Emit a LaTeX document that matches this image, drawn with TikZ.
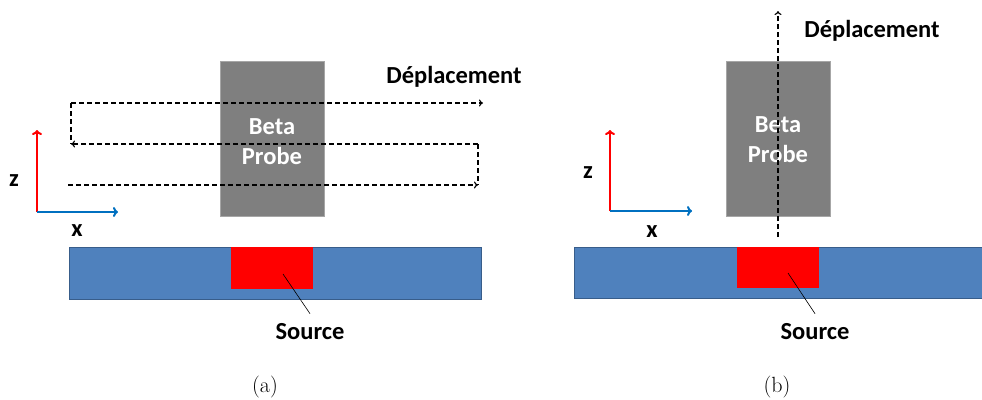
\documentclass[tikz,border=0pt]{standalone}
\usepackage{fontspec}
\newfontfamily\calibfont{Carlito}
\usetikzlibrary{arrows.meta}

\definecolor{slabblue}{HTML}{4F81BD}
\definecolor{slabedge}{HTML}{385D8A}
\definecolor{probegray}{HTML}{7F7F7F}
\definecolor{axisblue}{HTML}{0070C0}

\tikzset{
  lbl/.style={font=\calibfont\bfseries\fontsize{24.5}{30}\selectfont, inner sep=0pt},
  probelbl/.style={lbl, text=white, align=center},
  slab/.style={fill=slabblue, draw=slabedge, line width=0.8pt},
  srcbox/.style={fill=red},
  probebox/.style={fill=probegray, draw=gray!70, line width=0.5pt},
  travel/.style={dash pattern=on 5pt off 3pt, line width=1.1pt},
  travelarrow/.style={travel, -{To[length=4pt,width=7pt]}},
  zaxis/.style={draw=red, line width=2pt, -{To[length=5pt,width=10pt]}},
  xaxis/.style={draw=axisblue, line width=2pt, -{To[length=5pt,width=10pt]}},
  caption/.style={font=\fontsize{22}{24}\selectfont, inner sep=0pt}
}

\begin{document}
\begin{tikzpicture}[x=1pt, y=-1pt]
  \useasboundingbox (0,0) rectangle (982,399);

  %(a) balayage
  \coordinate (aTL) at (71,103);
  \coordinate (aTR) at (483,103);
  \coordinate (aML) at (71,144);
  \coordinate (aMR) at (478,144);
  \coordinate (aBL) at (68,185);
  \coordinate (aBR) at (478,185);
  \coordinate (aO) at (37,212);
  \coordinate (aZ) at (37,130);
  \coordinate (aX) at (118,212);
  \coordinate (aLead) at (283,274);

  \fill[probebox] (220,61) rectangle (324,216);
  \draw[slab] (69,247) rectangle (481,299);
  \fill[srcbox] (231,247) rectangle (313,289);

  \draw[travelarrow] (aBL) -- (aBR);
  \draw[travel] (aMR) -- (aBR);
  \draw[travelarrow] (aMR) -- (aML);
  \draw[travel] (aTL) -- (aML);
  \draw[travelarrow] (aTL) -- (aTR);

  \draw[zaxis] (aO) -- (aZ);
  \draw[xaxis] (aO) -- (aX);
  \node[lbl] (aZlbl) at (14,181) {z};
  \node[lbl] (aXlbl) at (77,231) {x};

  \node[probelbl] (aProbe) at (272,142) {Beta\\Probe};
  \node[lbl] (aDep) at (454,77) {Déplacement};
  \node[lbl] (aSrc) at (310,332) {Source};
  \draw[line width=0.6pt] (aLead) -- ([yshift=10pt]aSrc.north);
  \node[caption] (aCap) at (265,387) {(a)};

  %(b) vertical
  \coordinate (bBot) at (778,237);
  \coordinate (bTop) at (778,11);
  \coordinate (bO) at (610,211);
  \coordinate (bZ) at (610,130);
  \coordinate (bX) at (692,211);
  \coordinate (bLead) at (788,273);

  \fill[probebox] (726,61) rectangle (830,216);
  \draw[slab] (574,247) rectangle (983,298);
  \fill[srcbox] (737,247) rectangle (819,288);

  \node[probelbl] (bProbe) at (778,140) {Beta\\Probe};
  \draw[travelarrow] (bBot) -- (bTop);

  \draw[zaxis] (bO) -- (bZ);
  \draw[xaxis] (bO) -- (bX);
  \node[lbl] (bZlbl) at (588,173) {z};
  \node[lbl] (bXlbl) at (652,232) {x};

  \node[lbl] (bDep) at (872,31) {Déplacement};
  \node[lbl] (bSrc) at (815,332) {Source};
  \draw[line width=0.6pt] (bLead) -- ([yshift=10pt]bSrc.north);
  \node[caption] (bCap) at (777,387) {(b)};
\end{tikzpicture}
\end{document}
